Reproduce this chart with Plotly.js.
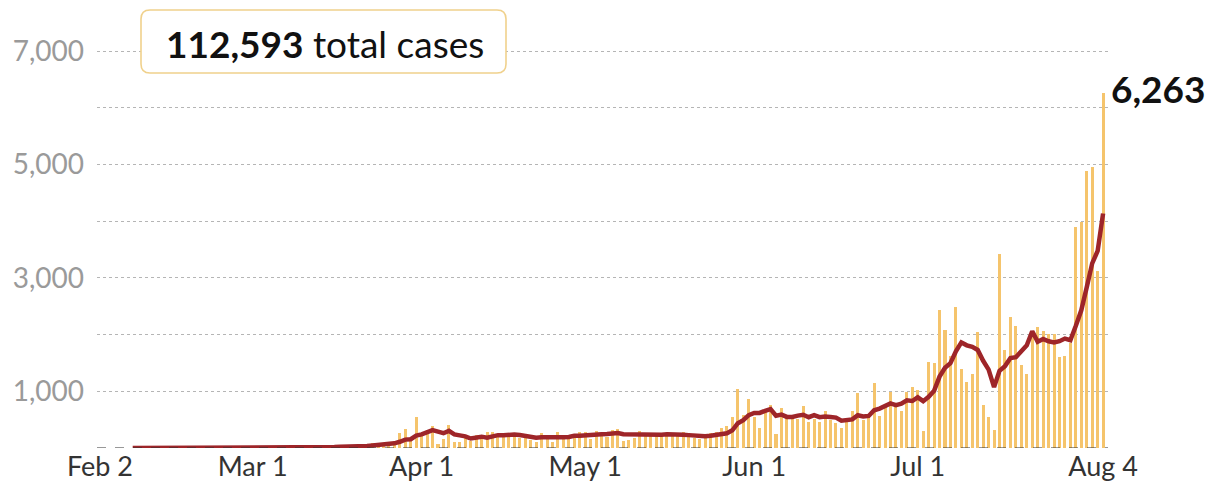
<!DOCTYPE html>
<html><head><meta charset="utf-8">
<script src="https://cdn.plot.ly/plotly-3.0.1.min.js"></script>
<style>html,body{margin:0;padding:0;background:#fff;}#chart{width:1217px;height:485px;}</style>
</head><body><div id="chart"></div>
<script>
// ---- data (daily new cases, Feb 2 - Aug 4) ----
const febCases = [1,0,0,1,0,0,0,0,0,0,0,0,0,0,0,0,0,0,0,0,0,0,0,0,0,0,0,0];
const marCases = [0,0,0,0,0,2,1,4,14,9,16,3,12,47,29,2,45,15,15,13,77,73,82,90,84,71,96,272,343,128,538];
const aprCases = [227,322,385,76,152,414,104,106,206,119,233,220,284,291,230,207,218,209,172,200,140,111,271,211,102,285,198,181,254,276];
const mayCases = [284,156,295,262,199,320,339,120,147,184,292,264,268,258,215,208,205,213,279,213,180,163,202,258,284,350,380,539,1046,590,862];
const junCases = [552,359,634,751,244,714,579,555,518,740,450,512,457,657,490,443,348,490,650,968,500,557,1150,560,780,985,765,660,985,1070];
const julCases = [1015,300,1525,1495,2425,2085,1630,2480,1395,1160,1310,2040,750,545,310,3425,1730,2305,2150,1455,1300,2050,2130,2070,2015,2015,1600,1630,1850,3895,3985];
const augCases = [4880,4950,3130,6263];

// 7-day average (starts Feb 8)
const avgFeb = [0,0,0,0,0,0,0,0,0,0,0,0,0,0,0,0,0,0,0,0,0,0];
const avgMar = [0,0,0,0,0,0,0,1,3,4,7,7,8,15,19,17,22,22,24,24,28,34,46,52,62,70,82,110,148,155,219];
const avgApr = [239,275,316,288,261,302,240,223,206,168,191,200,182,208,226,226,240,237,230,218,197,180,189,188,172,189,188,194,215,215];
const avgMay = [226,233,235,244,247,256,265,242,240,224,229,238,231,219,233,241,244,233,235,227,216,209,208,215,226,236,260,311,437,492,579];
const avgJun = [617,618,655,685,570,588,548,548,571,586,543,581,544,556,546,536,480,485,505,578,556,565,666,696,738,786,757,780,841,829];
const avgJul = [894,826,903,1007,1259,1416,1496,1706,1862,1810,1784,1729,1538,1383,1073,1363,1444,1586,1602,1703,1811,2059,1874,1923,1881,1862,1883,1930,1901,2154,2427];
const avgAug = [2836,3256,3474,4136];

const tickDates = ['2020-02-02','2020-03-01','2020-04-01','2020-05-01','2020-06-01','2020-07-01','2020-08-04'];
const tickLabels = ['Feb 2','Mar 1','Apr 1','May 1','Jun 1','Jul 1','Aug 4'];
const yTickVals = [1000,2000,3000,4000,5000,6000,7000];
const yTickLabels = ['1,000','','3,000','','5,000','','7,000'];
const totalCasesLabel = '112,593';
const lastValueLabel = '6,263';
const lastValue = 6263;

// ---- build ----
const daily = [].concat(febCases, marCases, aprCases, mayCases, junCases, julCases, augCases);
const avg = [].concat(avgFeb, avgMar, avgApr, avgMay, avgJun, avgJul, avgAug);
function dayStr(i){ return new Date(Date.UTC(2020,1,2+i)).toISOString().slice(0,10); }
const dates = daily.map((_, i) => dayStr(i));
const avgDates = dates.slice(daily.length - avg.length);

const W = 1217, H = 485, L = 97, R = 109, T = 36, B = 37;
const pw = W - L - R, ph = H - T - B;
const X = p => (p - L) / pw;
const Y = p => (H - B - p) / ph;
function roundRect(x0, y0, x1, y1, r) {
  return `M ${X(x0+r)},${Y(y0)} L ${X(x1-r)},${Y(y0)} Q ${X(x1)},${Y(y0)} ${X(x1)},${Y(y0+r)} ` +
         `L ${X(x1)},${Y(y1-r)} Q ${X(x1)},${Y(y1)} ${X(x1-r)},${Y(y1)} L ${X(x0+r)},${Y(y1)} ` +
         `Q ${X(x0)},${Y(y1)} ${X(x0)},${Y(y1-r)} L ${X(x0)},${Y(y0+r)} Q ${X(x0)},${Y(y0)} ${X(x0+r)},${Y(y0)} Z`;
}

const FONT = 'Lato, "Open Sans", sans-serif';
const DAY = 86400000;

const traces = [
  { type: 'bar', x: dates, y: daily, width: 0.56 * DAY,
    marker: { color: '#f5c46c', line: { width: 0 } }, hoverinfo: 'x+y', showlegend: false },
  { type: 'scatter', mode: 'lines', x: avgDates, y: avg,
    line: { color: '#9e2529', width: 4.5 }, hoverinfo: 'x+y', showlegend: false }
];

const layout = {
  width: W, height: H,
  margin: { l: L, r: R, t: T, b: B, pad: 0 },
  paper_bgcolor: '#fff', plot_bgcolor: '#fff',
  bargap: 0,
  font: { family: FONT },
  xaxis: {
    type: 'date', range: ['2020-02-01 10:48', '2020-08-04 21:36'],
    tickmode: 'array', tickvals: tickDates, ticktext: tickLabels,
    tickfont: { family: FONT, size: 27, color: '#333' },
    showgrid: false, zeroline: false, showline: false, ticks: '', fixedrange: true
  },
  yaxis: {
    range: [0, 7265],
    tickmode: 'array', tickvals: yTickVals, ticktext: yTickLabels,
    tickfont: { family: FONT, size: 28, color: '#9a9a9a' },
    showgrid: true, gridcolor: '#b5b5b5', griddash: 'dot', gridwidth: 1,
    zeroline: false, showline: false, ticks: '', ticklabelstandoff: 12, fixedrange: true
  },
  shapes: [
    { type: 'line', xref: 'paper', yref: 'y', x0: 0, x1: 1, y0: 0, y1: 0,
      line: { color: '#333', width: 1.2, dash: 'dash' }, layer: 'above' },
    { type: 'path', xref: 'paper', yref: 'paper', path: roundRect(141, 10, 506, 73, 9),
      fillcolor: '#fff', line: { color: '#f0d18c', width: 1.6 }, layer: 'above' }
  ],
  annotations: [
    { xref: 'paper', yref: 'paper', x: X(325), y: Y(43), xanchor: 'center', yanchor: 'middle',
      text: '<b>' + totalCasesLabel + '</b> total cases', showarrow: false,
      font: { family: FONT, size: 37, color: '#111' } },
    { xref: 'x', yref: 'y', x: dates[dates.length - 1], y: lastValue, xanchor: 'left', yanchor: 'middle',
      xshift: 6, yshift: 4, text: '<b>' + lastValueLabel + '</b>', showarrow: false,
      font: { family: FONT, size: 37, color: '#111' } }
  ]
};

Plotly.newPlot('chart', traces, layout, { displayModeBar: false, staticPlot: true });
</script>
</body></html>
